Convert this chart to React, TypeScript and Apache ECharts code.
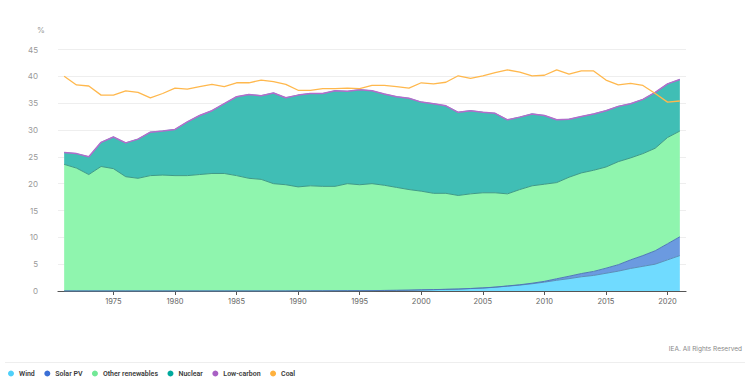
import React, { useEffect, useRef } from "react";
import * as echarts from "echarts";

const years: number[] = [
  1971, 1972, 1973, 1974, 1975, 1976, 1977, 1978, 1979, 1980,
  1981, 1982, 1983, 1984, 1985, 1986, 1987, 1988, 1989, 1990,
  1991, 1992, 1993, 1994, 1995, 1996, 1997, 1998, 1999, 2000,
  2001, 2002, 2003, 2004, 2005, 2006, 2007, 2008, 2009, 2010,
  2011, 2012, 2013, 2014, 2015, 2016, 2017, 2018, 2019, 2020, 2021,
];

const wind: number[] = [
  0, 0, 0, 0, 0, 0, 0, 0, 0, 0,
  0, 0, 0, 0, 0, 0, 0, 0, 0, 0.02,
  0.03, 0.03, 0.04, 0.05, 0.06, 0.07, 0.1, 0.12, 0.15, 0.2,
  0.25, 0.3, 0.35, 0.45, 0.55, 0.7, 0.9, 1.1, 1.35, 1.65,
  2.0, 2.3, 2.65, 2.9, 3.3, 3.7, 4.2, 4.6, 5.0, 5.8, 6.6,
];

const solarPV: number[] = [
  0, 0, 0, 0, 0, 0, 0, 0, 0, 0,
  0, 0, 0, 0, 0, 0, 0, 0, 0, 0,
  0, 0, 0, 0, 0, 0, 0, 0, 0, 0.01,
  0.01, 0.01, 0.01, 0.02, 0.02, 0.03, 0.04, 0.06, 0.1, 0.15,
  0.28, 0.45, 0.6, 0.75, 0.95, 1.2, 1.6, 2.0, 2.5, 3.0, 3.5,
];

const otherRenewables: number[] = [
  23.6, 22.9, 21.7, 23.2, 22.8, 21.3, 21.0, 21.5, 21.6, 21.5,
  21.5, 21.7, 21.9, 21.9, 21.5, 21.0, 20.8, 20.0, 19.8, 19.38,
  19.57, 19.47, 19.46, 19.95, 19.74, 19.93, 19.6, 19.18, 18.75, 18.39,
  17.94, 17.89, 17.44, 17.63, 17.73, 17.57, 17.16, 17.74, 18.15, 18.1,
  17.92, 18.45, 18.75, 18.85, 18.85, 19.2, 19.0, 19.0, 19.1, 19.8, 19.7,
];

const nuclear: number[] = [
  2.2, 2.7, 3.3, 4.5, 5.9, 6.3, 7.3, 8.1, 8.2, 8.6,
  10.0, 11.0, 11.7, 13.0, 14.7, 15.6, 15.6, 16.9, 16.2, 17.1,
  17.2, 17.3, 17.8, 17.2, 17.7, 17.3, 17.0, 16.9, 17.0, 16.6,
  16.7, 16.3, 15.5, 15.5, 15.0, 14.8, 13.8, 13.5, 13.4, 12.8,
  11.7, 10.8, 10.5, 10.5, 10.5, 10.3, 10.1, 10.1, 10.4, 10.0, 9.6,
];

const lowCarbon: number[] = [
  25.8, 25.6, 25.0, 27.7, 28.7, 27.6, 28.3, 29.6, 29.8, 30.1,
  31.5, 32.7, 33.6, 34.9, 36.2, 36.6, 36.4, 36.9, 36.0, 36.5,
  36.8, 36.8, 37.3, 37.2, 37.5, 37.3, 36.7, 36.2, 35.9, 35.2,
  34.9, 34.5, 33.3, 33.6, 33.3, 33.1, 31.9, 32.4, 33.0, 32.7,
  31.9, 32.0, 32.5, 33.0, 33.6, 34.4, 34.9, 35.7, 37.0, 38.6, 39.4,
];

const coal: number[] = [
  40.0, 38.4, 38.2, 36.5, 36.5, 37.3, 37.0, 36.0, 36.8, 37.8,
  37.6, 38.1, 38.5, 38.1, 38.8, 38.8, 39.3, 39.0, 38.5, 37.4,
  37.4, 37.7, 37.7, 37.8, 37.7, 38.3, 38.3, 38.1, 37.8, 38.8,
  38.6, 38.9, 40.1, 39.6, 40.1, 40.7, 41.2, 40.8, 40.1, 40.2,
  41.2, 40.4, 41.0, 41.0, 39.3, 38.4, 38.7, 38.3, 36.8, 35.2, 35.4,
];

const xTickYears: number[] = [1975, 1980, 1985, 1990, 1995, 2000, 2005, 2010, 2015, 2020];

const FONT = "Inter, 'Noto Sans', sans-serif";

export default function App() {
  const ref = useRef<HTMLDivElement>(null);

  useEffect(() => {
    if (!ref.current) return;
    const chart = echarts.init(ref.current, undefined, { renderer: "svg" });

    const showYear = (index: number) => xTickYears.indexOf(years[index]) >= 0;

    const areaSeries = (name: string, vals: number[], color: string, fill: string, line: string) => ({
      name,
      type: "line",
      stack: "total",
      data: vals,
      symbol: "none",
      showSymbol: false,
      itemStyle: { color },
      lineStyle: { width: 1, color: line },
      areaStyle: { color: fill, opacity: 1 },
      z: 2,
    });

    chart.setOption({
      animation: false,
      textStyle: { fontFamily: FONT },
      grid: { left: 58, right: 66, top: 49.5, bottom: 94, containLabel: false },
      legend: {
        left: 3,
        bottom: 3,
        icon: "circle",
        itemWidth: 6,
        itemHeight: 6,
        itemGap: 9.5,
        textStyle: { fontSize: 7, fontWeight: 600, color: "#3a3a3a", fontFamily: "Roboto, Inter, sans-serif" },
        data: ["Wind", "Solar PV", "Other renewables", "Nuclear", "Low-carbon", "Coal"],
      },
      xAxis: {
        type: "category",
        data: years.map(String),
        boundaryGap: true,
        splitLine: { show: false },
        axisLine: { show: true, lineStyle: { color: "#555", width: 1.2 } },
        axisTick: {
          show: true,
          length: 4,
          alignWithLabel: true,
          interval: (i: number) => showYear(i),
          lineStyle: { color: "#555" },
        },
        axisLabel: {
          color: "#666",
          fontSize: 7.5,
          margin: 6,
          interval: (i: number) => showYear(i),
        },
      },
      yAxis: {
        type: "value",
        min: 0,
        max: 45,
        interval: 5,
        axisLine: { show: false },
        axisTick: { show: false },
        axisLabel: { color: "#999", fontSize: 8, margin: 20 },
        splitLine: { lineStyle: { color: "#eeeeee", width: 1 } },
      },
      graphic: [
        { type: "text", left: 37, top: 26, style: { text: "%", fill: "#999", fontSize: 8, fontFamily: FONT } },
        {
          type: "line",
          shape: { x1: 5, y1: 362.5, x2: 745, y2: 362.5 },
          style: { stroke: "#eeeeee", lineWidth: 1 },
        },
        {
          type: "text",
          right: 10,
          top: 345,
          style: { text: "IEA. All Rights Reserved", fill: "#888", fontSize: 6.5, fontFamily: FONT },
        },
      ],
      series: [
        areaSeries("Wind", wind, "#4fd0fa", "#70dbff", "#5a8fb8"),
        areaSeries("Solar PV", solarPV, "#3a6fd6", "#6b9ae0", "#4f78b8"),
        areaSeries("Other renewables", otherRenewables, "#72e896", "#8ff5ae", "#3f9a86"),
        areaSeries("Nuclear", nuclear, "#00a99d", "#40beb5", "#40beb5"),
        {
          name: "Low-carbon",
          type: "line",
          data: lowCarbon,
          symbol: "none",
          itemStyle: { color: "#a860c4" },
          lineStyle: { width: 1.5, color: "#b36ccb" },
          z: 3,
        },
        {
          name: "Coal",
          type: "line",
          data: coal,
          symbol: "none",
          itemStyle: { color: "#ffb13d" },
          lineStyle: { width: 1.3, color: "#ffb84d" },
          z: 4,
        },
      ],
    });

    return () => chart.dispose();
  }, []);

  return <div ref={ref} style={{ width: 752, height: 385, position: "absolute", left: 0, top: 0 }} />;
}
